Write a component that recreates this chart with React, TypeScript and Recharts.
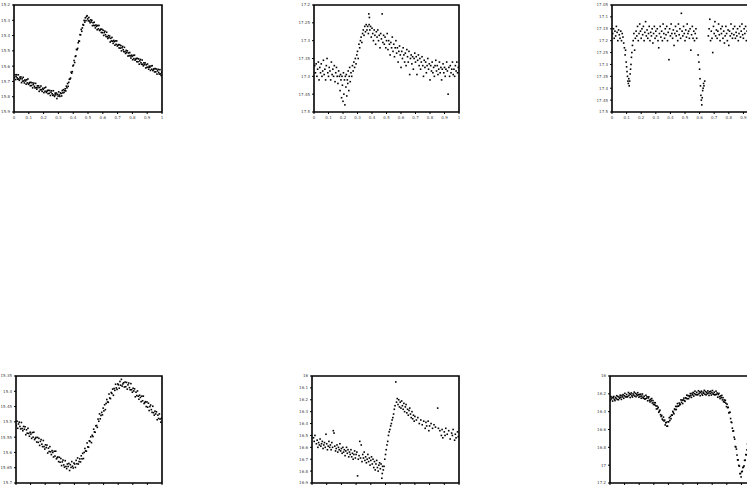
import { ScatterChart, Scatter, XAxis, YAxis, ReferenceArea } from 'recharts';

// phase-folded light curves, 6 stars
const phaseTicks = [0, 0.1, 0.2, 0.3, 0.4, 0.5, 0.6, 0.7, 0.8, 0.9, 1];

const ticksA = [15.2, 15.3, 15.4, 15.5, 15.6, 15.7, 15.8, 15.9];
const ticksB = [17.2, 17.25, 17.3, 17.35, 17.4, 17.45, 17.5];
const ticksC = [17.05, 17.1, 17.15, 17.2, 17.25, 17.3, 17.35, 17.4, 17.45, 17.5];
const ticksD = [15.35, 15.4, 15.45, 15.5, 15.55, 15.6, 15.65, 15.7];
const ticksE = [16, 16.1, 16.2, 16.3, 16.4, 16.5, 16.6, 16.7, 16.8, 16.9];
const ticksF = [16, 16.2, 16.4, 16.6, 16.8, 17, 17.2];

const starA: [number, number][] = [
  [0.003,15.674],[0.007,15.656],[0.011,15.688],[0.014,15.667],[0.018,15.656],[0.021,15.676],[0.025,15.686],[0.029,15.657],[0.032,15.684],[0.036,15.693],
  [0.04,15.672],[0.043,15.683],[0.047,15.671],[0.051,15.708],[0.055,15.683],[0.058,15.698],[0.062,15.673],[0.066,15.697],[0.07,15.71],[0.074,15.69],
  [0.078,15.697],[0.082,15.718],[0.086,15.689],[0.09,15.71],[0.094,15.684],[0.098,15.719],[0.102,15.713],[0.106,15.707],[0.11,15.728],[0.114,15.706],
  [0.118,15.727],[0.122,15.709],[0.126,15.742],[0.13,15.721],[0.134,15.711],[0.138,15.732],[0.142,15.742],[0.146,15.713],[0.15,15.741],[0.154,15.751],
  [0.158,15.729],[0.162,15.741],[0.166,15.729],[0.17,15.765],[0.174,15.74],[0.178,15.755],[0.182,15.73],[0.186,15.754],[0.19,15.765],[0.194,15.745],
  [0.198,15.752],[0.202,15.773],[0.206,15.743],[0.21,15.764],[0.214,15.738],[0.218,15.772],[0.222,15.766],[0.226,15.759],[0.23,15.78],[0.234,15.758],
  [0.238,15.778],[0.242,15.76],[0.246,15.792],[0.25,15.771],[0.254,15.761],[0.258,15.781],[0.262,15.791],[0.266,15.761],[0.27,15.789],[0.274,15.798],
  [0.278,15.777],[0.282,15.788],[0.286,15.776],[0.29,15.812],[0.294,15.784],[0.298,15.796],[0.302,15.768],[0.306,15.789],[0.31,15.798],[0.314,15.775],
  [0.318,15.779],[0.322,15.795],[0.326,15.76],[0.33,15.775],[0.334,15.754],[0.338,15.772],[0.342,15.76],[0.346,15.748],[0.35,15.762],[0.354,15.731],
  [0.358,15.742],[0.362,15.714],[0.366,15.732],[0.37,15.706],[0.374,15.686],[0.378,15.685],[0.382,15.678],[0.386,15.639],[0.39,15.646],[0.394,15.636],
  [0.398,15.599],[0.402,15.593],[0.406,15.563],[0.41,15.576],[0.414,15.537],[0.418,15.533],[0.422,15.491],[0.426,15.492],[0.43,15.484],[0.434,15.447],
  [0.438,15.436],[0.442,15.437],[0.446,15.394],[0.45,15.395],[0.454,15.36],[0.458,15.372],[0.462,15.35],[0.466,15.328],[0.47,15.332],[0.474,15.301],
  [0.478,15.312],[0.482,15.284],[0.486,15.302],[0.49,15.276],[0.494,15.27],[0.498,15.291],[0.502,15.303],[0.506,15.282],[0.51,15.305],[0.514,15.316],
  [0.518,15.297],[0.522,15.311],[0.526,15.3],[0.53,15.335],[0.534,15.316],[0.538,15.333],[0.542,15.313],[0.546,15.335],[0.55,15.35],[0.554,15.331],
  [0.558,15.339],[0.562,15.362],[0.566,15.334],[0.57,15.356],[0.574,15.334],[0.578,15.367],[0.582,15.363],[0.586,15.358],[0.59,15.38],[0.594,15.359],
  [0.598,15.381],[0.602,15.365],[0.606,15.399],[0.61,15.38],[0.614,15.371],[0.618,15.394],[0.622,15.406],[0.626,15.378],[0.63,15.408],[0.634,15.419],
  [0.638,15.4],[0.642,15.414],[0.646,15.403],[0.65,15.442],[0.654,15.418],[0.658,15.435],[0.662,15.412],[0.666,15.437],[0.67,15.451],[0.674,15.432],
  [0.678,15.44],[0.682,15.463],[0.686,15.435],[0.69,15.457],[0.694,15.435],[0.698,15.468],[0.702,15.464],[0.706,15.459],[0.71,15.481],[0.714,15.46],
  [0.718,15.482],[0.722,15.466],[0.726,15.5],[0.73,15.48],[0.734,15.471],[0.738,15.493],[0.742,15.505],[0.746,15.477],[0.75,15.506],[0.754,15.517],
  [0.758,15.497],[0.762,15.511],[0.766,15.5],[0.77,15.534],[0.774,15.514],[0.778,15.531],[0.782,15.511],[0.786,15.533],[0.79,15.547],[0.794,15.528],
  [0.798,15.536],[0.802,15.558],[0.806,15.53],[0.81,15.551],[0.814,15.528],[0.818,15.561],[0.822,15.555],[0.826,15.55],[0.83,15.571],[0.834,15.549],
  [0.838,15.571],[0.842,15.553],[0.846,15.587],[0.85,15.566],[0.854,15.556],[0.858,15.578],[0.862,15.588],[0.866,15.56],[0.87,15.588],[0.874,15.598],
  [0.878,15.578],[0.882,15.59],[0.886,15.579],[0.89,15.612],[0.894,15.591],[0.898,15.608],[0.902,15.586],[0.906,15.607],[0.91,15.62],[0.914,15.6],
  [0.918,15.607],[0.922,15.628],[0.926,15.599],[0.93,15.62],[0.934,15.597],[0.938,15.629],[0.942,15.623],[0.946,15.617],[0.95,15.638],[0.954,15.616],
  [0.958,15.637],[0.962,15.619],[0.966,15.652],[0.97,15.631],[0.974,15.621],[0.978,15.642],[0.982,15.652],[0.986,15.623],[0.99,15.651],[0.994,15.661],
  [0.998,15.64],
];

const starB: [number, number][] = [
  [0.005,17.37],[0.01,17.39],[0.015,17.365],[0.02,17.4],[0.025,17.38],[0.03,17.36],[0.035,17.41],[0.04,17.375],[0.045,17.39],[0.05,17.365],
  [0.055,17.4],[0.06,17.385],[0.065,17.355],[0.07,17.395],[0.075,17.38],[0.08,17.41],[0.085,17.37],[0.09,17.35],[0.095,17.39],[0.1,17.4],
  [0.105,17.375],[0.11,17.385],[0.115,17.41],[0.12,17.36],[0.125,17.395],[0.13,17.38],[0.135,17.4],[0.14,17.37],[0.145,17.415],[0.15,17.39],
  [0.155,17.375],[0.16,17.4],[0.165,17.42],[0.17,17.385],[0.175,17.4],[0.18,17.44],[0.183,17.395],[0.186,17.41],[0.19,17.46],[0.193,17.4],
  [0.196,17.425],[0.2,17.47],[0.203,17.39],[0.206,17.45],[0.21,17.41],[0.213,17.48],[0.216,17.4],[0.22,17.43],[0.223,17.395],[0.226,17.455],
  [0.23,17.41],[0.233,17.42],[0.236,17.385],[0.24,17.44],[0.243,17.4],[0.246,17.375],[0.25,17.415],[0.255,17.39],[0.26,17.4],[0.265,17.37],
  [0.27,17.385],[0.275,17.36],[0.28,17.375],[0.285,17.35],[0.29,17.365],[0.295,17.34],[0.3,17.33],[0.305,17.35],[0.31,17.31],[0.315,17.32],
  [0.32,17.3],[0.325,17.29],[0.33,17.305],[0.335,17.28],[0.34,17.27],[0.345,17.285],[0.35,17.26],[0.355,17.275],[0.36,17.255],[0.365,17.27],
  [0.37,17.26],[0.375,17.28],[0.378,17.225],[0.38,17.255],[0.382,17.235],[0.385,17.27],[0.39,17.26],[0.395,17.29],[0.4,17.265],[0.405,17.28],
  [0.41,17.3],[0.415,17.27],[0.42,17.285],[0.425,17.31],[0.43,17.275],[0.435,17.29],[0.44,17.27],[0.445,17.3],[0.45,17.285],[0.455,17.32],
  [0.46,17.28],[0.465,17.295],[0.47,17.225],[0.475,17.305],[0.48,17.285],[0.485,17.31],[0.49,17.29],[0.495,17.32],[0.5,17.3],[0.505,17.28],
  [0.51,17.325],[0.515,17.3],[0.52,17.31],[0.525,17.34],[0.53,17.305],[0.535,17.32],[0.54,17.29],[0.545,17.33],[0.55,17.31],[0.555,17.345],
  [0.56,17.32],[0.565,17.3],[0.57,17.335],[0.575,17.32],[0.58,17.36],[0.585,17.33],[0.59,17.315],[0.595,17.34],[0.6,17.375],[0.605,17.33],
  [0.61,17.35],[0.615,17.32],[0.62,17.34],[0.625,17.36],[0.63,17.335],[0.635,17.37],[0.64,17.325],[0.645,17.345],[0.65,17.36],[0.655,17.33],
  [0.66,17.395],[0.665,17.35],[0.67,17.34],[0.675,17.365],[0.68,17.345],[0.685,17.38],[0.69,17.35],[0.695,17.335],[0.7,17.36],[0.705,17.345],
  [0.71,17.395],[0.715,17.355],[0.72,17.34],[0.725,17.37],[0.73,17.35],[0.735,17.38],[0.74,17.36],[0.745,17.345],[0.75,17.37],[0.755,17.4],
  [0.76,17.355],[0.765,17.375],[0.77,17.36],[0.775,17.39],[0.78,17.37],[0.785,17.35],[0.79,17.38],[0.795,17.365],[0.8,17.41],[0.805,17.37],
  [0.81,17.385],[0.815,17.36],[0.82,17.39],[0.825,17.375],[0.83,17.4],[0.835,17.37],[0.84,17.355],[0.845,17.385],[0.85,17.37],[0.855,17.395],
  [0.86,17.38],[0.865,17.36],[0.87,17.39],[0.875,17.375],[0.88,17.41],[0.885,17.38],[0.89,17.365],[0.895,17.39],[0.9,17.375],[0.905,17.4],
  [0.91,17.38],[0.915,17.36],[0.92,17.385],[0.925,17.45],[0.93,17.375],[0.935,17.4],[0.94,17.37],[0.945,17.39],[0.95,17.38],[0.955,17.36],
  [0.96,17.395],[0.965,17.38],[0.97,17.4],[0.975,17.37],[0.98,17.385],[0.985,17.36],[0.99,17.39],[0.995,17.375],
];

const starC: [number, number][] = [
  [0.005,17.17],[0.01,17.15],[0.015,17.19],[0.02,17.16],[0.025,17.18],[0.03,17.14],[0.035,17.165],[0.04,17.2],[0.045,17.155],[0.05,17.175],
  [0.055,17.19],[0.06,17.16],[0.065,17.2],[0.07,17.17],[0.075,17.185],[0.08,17.21],[0.085,17.23],[0.09,17.26],[0.093,17.24],[0.097,17.29],
  [0.1,17.31],[0.103,17.33],[0.106,17.35],[0.109,17.37],[0.112,17.38],[0.115,17.36],[0.118,17.39],[0.121,17.37],[0.124,17.34],[0.127,17.32],
  [0.13,17.3],[0.133,17.27],[0.136,17.25],[0.14,17.22],[0.145,17.2],[0.15,17.17],[0.155,17.24],[0.16,17.19],[0.165,17.16],[0.17,17.18],
  [0.175,17.14],[0.18,17.2],[0.185,17.17],[0.19,17.13],[0.195,17.16],[0.2,17.19],[0.205,17.15],[0.21,17.175],[0.215,17.14],[0.22,17.2],
  [0.225,17.165],[0.23,17.12],[0.235,17.18],[0.24,17.155],[0.245,17.19],[0.25,17.17],[0.255,17.14],[0.26,17.2],[0.265,17.165],[0.27,17.18],
  [0.275,17.15],[0.28,17.21],[0.285,17.17],[0.29,17.14],[0.295,17.19],[0.3,17.16],[0.305,17.18],[0.31,17.15],[0.315,17.2],[0.32,17.23],
  [0.325,17.17],[0.33,17.14],[0.335,17.185],[0.34,17.16],[0.345,17.2],[0.35,17.13],[0.355,17.17],[0.36,17.19],[0.365,17.15],[0.37,17.175],
  [0.375,17.14],[0.38,17.2],[0.385,17.165],[0.39,17.28],[0.395,17.15],[0.4,17.18],[0.405,17.13],[0.41,17.17],[0.415,17.19],[0.42,17.155],
  [0.425,17.22],[0.43,17.17],[0.435,17.14],[0.44,17.18],[0.445,17.16],[0.45,17.2],[0.455,17.13],[0.46,17.175],[0.465,17.15],[0.47,17.19],
  [0.475,17.085],[0.48,17.16],[0.485,17.18],[0.49,17.14],[0.495,17.17],[0.5,17.2],[0.505,17.155],[0.51,17.185],[0.515,17.13],[0.52,17.17],
  [0.525,17.16],[0.53,17.19],[0.535,17.15],[0.54,17.24],[0.545,17.175],[0.55,17.14],[0.555,17.19],[0.56,17.16],[0.565,17.2],[0.57,17.17],
  [0.575,17.15],[0.58,17.19],[0.59,17.26],[0.595,17.29],[0.6,17.32],[0.603,17.36],[0.606,17.39],[0.609,17.43],[0.612,17.45],[0.615,17.47],
  [0.618,17.44],[0.621,17.41],[0.624,17.4],[0.627,17.38],[0.63,17.39],[0.635,17.37],
  [0.66,17.18],[0.665,17.15],[0.67,17.11],[0.675,17.2],[0.68,17.16],[0.685,17.19],[0.69,17.25],[0.695,17.14],[0.7,17.17],[0.705,17.12],
  [0.71,17.18],[0.715,17.155],[0.72,17.19],[0.725,17.16],[0.73,17.13],[0.735,17.175],[0.74,17.2],[0.745,17.15],[0.75,17.17],[0.755,17.14],
  [0.76,17.19],[0.765,17.16],[0.77,17.21],[0.775,17.18],[0.78,17.14],[0.785,17.17],[0.79,17.2],[0.795,17.155],[0.8,17.22],[0.805,17.16],
  [0.81,17.18],[0.815,17.13],[0.82,17.17],[0.825,17.19],[0.83,17.15],[0.835,17.175],[0.84,17.14],[0.845,17.19],[0.85,17.165],[0.855,17.18],
  [0.86,17.15],[0.865,17.2],[0.87,17.17],[0.875,17.14],[0.88,17.185],[0.885,17.16],[0.89,17.13],[0.895,17.175],[0.9,17.19],[0.905,17.15],
  [0.91,17.17],[0.915,17.14],[0.92,17.2],[0.925,17.16],[0.93,17.18],[0.935,17.15],[0.94,17.17],[0.945,17.19],[0.95,17.16],[0.955,17.14],
  [0.96,17.18],[0.965,17.2],[0.97,17.165],[0.975,17.15],[0.98,17.18],[0.985,17.16],[0.99,17.19],[0.995,17.17],
];

const starD: [number, number][] = [
  [0.002,15.512],[0.007,15.498],[0.012,15.521],[0.017,15.507],[0.022,15.501],[0.027,15.515],[0.032,15.523],[0.037,15.502],[0.042,15.522],[0.047,15.529],
  [0.052,15.515],[0.057,15.524],[0.062,15.516],[0.067,15.542],[0.072,15.526],[0.077,15.537],[0.082,15.521],[0.087,15.538],[0.092,15.547],[0.097,15.534],
  [0.102,15.54],[0.107,15.554],[0.112,15.535],[0.117,15.55],[0.122,15.534],[0.127,15.558],[0.132,15.554],[0.137,15.551],[0.142,15.566],[0.147,15.551],
  [0.152,15.567],[0.157,15.554],[0.162,15.577],[0.167,15.564],[0.172,15.558],[0.177,15.573],[0.182,15.581],[0.187,15.561],[0.192,15.581],[0.197,15.589],
  [0.202,15.575],[0.207,15.584],[0.212,15.576],[0.217,15.602],[0.222,15.586],[0.227,15.597],[0.232,15.581],[0.237,15.598],[0.242,15.607],[0.247,15.594],
  [0.252,15.6],[0.257,15.615],[0.262,15.596],[0.267,15.612],[0.272,15.596],[0.277,15.621],[0.282,15.617],[0.287,15.615],[0.292,15.63],[0.297,15.616],
  [0.302,15.632],[0.307,15.62],[0.312,15.643],[0.317,15.631],[0.322,15.625],[0.327,15.641],[0.332,15.648],[0.337,15.627],[0.342,15.646],[0.347,15.653],
  [0.352,15.638],[0.357,15.646],[0.362,15.636],[0.367,15.659],[0.372,15.64],[0.377,15.649],[0.382,15.63],[0.387,15.645],[0.392,15.651],[0.397,15.635],
  [0.402,15.638],[0.407,15.649],[0.412,15.626],[0.417,15.637],[0.422,15.618],[0.427,15.638],[0.432,15.63],[0.437,15.621],[0.442,15.631],[0.447,15.611],
  [0.452,15.621],[0.457,15.603],[0.462,15.62],[0.467,15.6],[0.472,15.587],[0.477,15.595],[0.482,15.596],[0.487,15.569],[0.492,15.582],[0.497,15.583],
  [0.502,15.562],[0.507,15.564],[0.512,15.549],[0.517,15.568],[0.522,15.544],[0.527,15.548],[0.532,15.524],[0.537,15.533],[0.542,15.534],[0.547,15.513],
  [0.552,15.512],[0.557,15.518],[0.562,15.491],[0.567,15.498],[0.572,15.474],[0.577,15.49],[0.582,15.479],[0.587,15.469],[0.592,15.477],[0.597,15.455],
  [0.602,15.464],[0.607,15.444],[0.612,15.46],[0.617,15.44],[0.622,15.427],[0.627,15.435],[0.632,15.436],[0.637,15.409],[0.642,15.422],[0.647,15.424],
  [0.652,15.404],[0.657,15.407],[0.662,15.393],[0.667,15.413],[0.672,15.391],[0.677,15.397],[0.682,15.377],[0.687,15.389],[0.692,15.394],[0.697,15.376],
  [0.702,15.379],[0.707,15.39],[0.712,15.368],[0.717,15.38],[0.722,15.361],[0.727,15.383],[0.732,15.376],[0.737,15.372],[0.742,15.386],[0.747,15.37],
  [0.752,15.385],[0.757,15.371],[0.762,15.393],[0.767,15.379],[0.772,15.373],[0.777,15.388],[0.782,15.395],[0.787,15.375],[0.792,15.395],[0.797,15.403],
  [0.802,15.39],[0.807,15.399],[0.812,15.392],[0.817,15.418],[0.822,15.403],[0.827,15.414],[0.832,15.399],[0.837,15.416],[0.842,15.426],[0.847,15.413],
  [0.852,15.42],[0.857,15.434],[0.862,15.416],[0.867,15.431],[0.872,15.416],[0.877,15.44],[0.882,15.437],[0.887,15.434],[0.892,15.45],[0.897,15.435],
  [0.902,15.452],[0.907,15.439],[0.912,15.463],[0.917,15.45],[0.922,15.445],[0.927,15.46],[0.932,15.469],[0.937,15.449],[0.942,15.47],[0.947,15.478],
  [0.952,15.465],[0.957,15.474],[0.962,15.467],[0.967,15.493],[0.972,15.478],[0.977,15.489],[0.982,15.474],[0.987,15.491],[0.992,15.501],[0.997,15.488],
];

const starE: [number, number][] = [
  [0.01,16.52],[0.015,16.55],[0.02,16.5],[0.03,16.57],[0.035,16.54],[0.04,16.6],[0.045,16.56],[0.05,16.58],[0.055,16.53],[0.06,16.59],
  [0.065,16.57],[0.07,16.55],[0.075,16.61],[0.08,16.58],[0.085,16.56],[0.09,16.6],[0.095,16.49],[0.1,16.57],[0.105,16.62],[0.11,16.59],
  [0.115,16.55],[0.12,16.6],[0.125,16.58],[0.13,16.62],[0.135,16.56],[0.14,16.6],[0.145,16.46],[0.15,16.48],[0.155,16.59],[0.16,16.63],
  [0.165,16.61],[0.17,16.58],[0.175,16.64],[0.18,16.6],[0.185,16.62],[0.19,16.57],[0.195,16.63],[0.2,16.61],[0.205,16.65],[0.21,16.6],
  [0.215,16.64],[0.22,16.62],[0.225,16.67],[0.23,16.63],[0.235,16.6],[0.24,16.65],[0.245,16.62],[0.25,16.68],[0.255,16.64],[0.26,16.66],
  [0.265,16.62],[0.27,16.68],[0.275,16.65],[0.28,16.7],[0.285,16.66],[0.29,16.63],[0.295,16.69],[0.3,16.66],[0.305,16.64],[0.31,16.84],
  [0.315,16.7],[0.32,16.67],[0.325,16.55],[0.33,16.69],[0.335,16.58],[0.34,16.72],[0.345,16.66],[0.35,16.69],[0.355,16.64],[0.36,16.71],
  [0.365,16.68],[0.37,16.73],[0.375,16.7],[0.38,16.66],[0.385,16.72],[0.39,16.69],[0.395,16.75],[0.4,16.71],[0.405,16.68],[0.41,16.74],
  [0.415,16.7],[0.42,16.77],[0.425,16.72],[0.43,16.79],[0.435,16.74],[0.44,16.71],[0.445,16.77],[0.45,16.8],[0.455,16.75],[0.46,16.73],
  [0.465,16.78],[0.47,16.74],[0.475,16.86],[0.478,16.82],[0.48,16.76],[0.485,16.79],[0.49,16.76],[0.495,16.7],[0.5,16.66],[0.505,16.62],
  [0.51,16.58],[0.515,16.55],[0.52,16.5],[0.525,16.47],[0.53,16.45],[0.535,16.42],[0.54,16.4],[0.545,16.37],[0.55,16.35],[0.555,16.32],
  [0.56,16.28],[0.565,16.25],[0.57,16.05],[0.575,16.22],[0.58,16.19],[0.585,16.24],[0.59,16.2],[0.595,16.26],[0.6,16.22],[0.605,16.27],
  [0.61,16.21],[0.615,16.25],[0.62,16.28],[0.625,16.23],[0.63,16.3],[0.635,16.26],[0.64,16.24],[0.645,16.31],[0.65,16.28],[0.655,16.33],
  [0.66,16.29],[0.665,16.27],[0.67,16.32],[0.675,16.35],[0.68,16.3],[0.685,16.36],[0.69,16.33],[0.695,16.38],[0.7,16.34],[0.71,16.37],
  [0.72,16.35],[0.73,16.4],[0.74,16.37],[0.75,16.41],[0.76,16.38],[0.77,16.44],[0.775,16.39],[0.78,16.42],[0.79,16.38],[0.795,16.46],
  [0.8,16.42],[0.81,16.4],[0.82,16.44],[0.83,16.41],[0.84,16.43],[0.855,16.27],[0.86,16.44],[0.87,16.46],[0.88,16.5],[0.885,16.45],
  [0.89,16.52],[0.9,16.47],[0.905,16.5],[0.91,16.44],[0.92,16.49],[0.93,16.46],[0.94,16.53],[0.95,16.48],[0.955,16.5],[0.96,16.45],
  [0.97,16.54],[0.975,16.49],[0.98,16.52],[0.99,16.47],[0.995,16.51],
];

const starF: [number, number][] = [
  [0.002,16.273],[0.006,16.23],[0.01,16.257],[0.014,16.238],[0.018,16.281],[0.022,16.246],[0.026,16.23],[0.03,16.262],[0.034,16.276],[0.038,16.241],
  [0.042,16.253],[0.046,16.221],[0.05,16.263],[0.054,16.23],[0.058,16.266],[0.062,16.236],[0.066,16.249],[0.07,16.215],[0.074,16.237],[0.078,16.262],
  [0.082,16.218],[0.086,16.235],[0.09,16.209],[0.094,16.25],[0.098,16.222],[0.102,16.195],[0.106,16.231],[0.11,16.235],[0.114,16.208],[0.118,16.234],
  [0.122,16.23],[0.126,16.185],[0.13,16.217],[0.134,16.198],[0.138,16.241],[0.142,16.206],[0.146,16.19],[0.15,16.222],[0.154,16.236],[0.158,16.201],
  [0.162,16.213],[0.166,16.181],[0.17,16.225],[0.174,16.194],[0.178,16.232],[0.182,16.204],[0.186,16.219],[0.19,16.187],[0.194,16.211],[0.198,16.238],
  [0.202,16.207],[0.206,16.227],[0.21,16.204],[0.214,16.249],[0.218,16.225],[0.222,16.202],[0.226,16.242],[0.23,16.25],[0.234,16.227],[0.238,16.257],
  [0.242,16.257],[0.246,16.216],[0.25,16.25],[0.254,16.233],[0.258,16.278],[0.262,16.246],[0.266,16.234],[0.27,16.272],[0.274,16.291],[0.278,16.261],
  [0.282,16.279],[0.286,16.253],[0.29,16.303],[0.294,16.276],[0.298,16.319],[0.302,16.299],[0.306,16.323],[0.31,16.3],[0.314,16.334],[0.318,16.37],
  [0.322,16.337],[0.326,16.366],[0.33,16.351],[0.334,16.407],[0.338,16.395],[0.342,16.383],[0.346,16.434],[0.35,16.454],[0.354,16.442],[0.358,16.483],
  [0.362,16.493],[0.366,16.461],[0.37,16.504],[0.374,16.495],[0.378,16.549],[0.382,16.525],[0.386,16.519],[0.39,16.562],[0.394,16.563],[0.398,16.514],
  [0.402,16.513],[0.406,16.468],[0.41,16.498],[0.414,16.454],[0.418,16.479],[0.422,16.437],[0.426,16.44],[0.43,16.397],[0.434,16.409],[0.438,16.424],
  [0.442,16.37],[0.446,16.377],[0.45,16.341],[0.454,16.376],[0.458,16.342],[0.462,16.309],[0.466,16.339],[0.47,16.337],[0.474,16.304],[0.478,16.324],
  [0.482,16.316],[0.486,16.268],[0.49,16.295],[0.494,16.271],[0.498,16.309],[0.502,16.269],[0.506,16.248],[0.51,16.275],[0.514,16.284],[0.518,16.244],
  [0.522,16.251],[0.526,16.215],[0.53,16.255],[0.534,16.22],[0.538,16.254],[0.542,16.222],[0.546,16.233],[0.55,16.197],[0.554,16.217],[0.558,16.24],
  [0.562,16.195],[0.566,16.211],[0.57,16.185],[0.574,16.225],[0.578,16.197],[0.582,16.17],[0.586,16.206],[0.59,16.21],[0.594,16.183],[0.598,16.21],
  [0.602,16.208],[0.606,16.165],[0.61,16.197],[0.614,16.178],[0.618,16.221],[0.622,16.186],[0.626,16.17],[0.63,16.202],[0.634,16.216],[0.638,16.181],
  [0.642,16.193],[0.646,16.161],[0.65,16.205],[0.654,16.174],[0.658,16.212],[0.662,16.184],[0.666,16.199],[0.67,16.167],[0.674,16.191],[0.678,16.218],
  [0.682,16.176],[0.686,16.195],[0.69,16.171],[0.694,16.214],[0.698,16.188],[0.702,16.163],[0.706,16.201],[0.71,16.207],[0.714,16.182],[0.718,16.21],
  [0.722,16.209],[0.726,16.17],[0.73,16.206],[0.734,16.191],[0.738,16.238],[0.742,16.207],[0.746,16.195],[0.75,16.232],[0.754,16.253],[0.758,16.224],
  [0.762,16.243],[0.766,16.218],[0.77,16.268],[0.774,16.244],[0.778,16.289],[0.782,16.269],[0.786,16.294],[0.79,16.272],[0.794,16.306],[0.798,16.343],
  [0.802,16.316],[0.806,16.355],[0.81,16.351],[0.814,16.414],[0.818,16.408],[0.822,16.407],[0.826,16.477],[0.83,16.517],[0.834,16.522],[0.838,16.585],
  [0.842,16.618],[0.846,16.615],[0.85,16.687],[0.854,16.708],[0.858,16.791],[0.862,16.796],[0.866,16.82],[0.87,16.887],[0.874,16.941],[0.878,16.941],
  [0.882,17.003],[0.886,17.011],[0.89,17.095],[0.894,17.094],[0.898,17.132],[0.902,17.074],[0.906,17.069],[0.91,17.027],[0.914,17.021],[0.918,17.008],
  [0.922,16.946],[0.926,16.945],[0.93,16.881],[0.934,16.884],[0.938,16.828],[0.942,16.763],[0.946,16.761],[0.95,16.717],[0.955,16.622],[0.96,16.58],
  [0.965,16.518],[0.97,16.425],[0.975,16.407],[0.98,16.348],[0.985,16.351],[0.99,16.296],[0.995,16.26],
];

const YW = 16;
const PH = 107;
const XH = 10;
const PAD = 3;

const tickStyle = { fontSize: 4, fill: '#444', fontFamily: 'DejaVu Sans' };

function Dot(props: any) {
  const { cx, cy } = props;
  if (cx == null || cy == null) return null;
  return <rect x={cx - 0.8} y={cy - 0.8} width={1.6} height={1.6} fill="#000" />;
}

type PanelProps = {
  points: [number, number][];
  yTicks: number[];
  left: number;
  top: number;
  width: number;
};

function LightCurve({ points, yTicks, left, top, width }: PanelProps) {
  const data = points.map(([x, y]) => ({ x, y }));
  const lo = yTicks[0];
  const hi = yTicks[yTicks.length - 1];
  return (
    <div style={{ position: 'absolute', left: left - YW, top: top - PAD }}>
      <ScatterChart
        width={width + YW + PAD}
        height={PH + XH + PAD}
        margin={{ top: PAD, right: PAD, bottom: 0, left: 0 }}
      >
        <XAxis
          type="number"
          dataKey="x"
          domain={[0, 1]}
          ticks={phaseTicks}
          interval={0}
          height={XH}
          tick={tickStyle}
          tickSize={2}
          tickLine={{ stroke: '#000' }}
          axisLine={false}
          allowDataOverflow
        />
        <YAxis
          type="number"
          dataKey="y"
          domain={[lo, hi]}
          ticks={yTicks}
          interval={0}
          reversed
          width={YW}
          tick={tickStyle}
          tickSize={2}
          tickLine={{ stroke: '#000' }}
          axisLine={false}
          allowDataOverflow
        />
        <ReferenceArea x1={0} x2={1} y1={lo} y2={hi} fill="none" stroke="#000" strokeWidth={1.6} />
        <Scatter data={data} shape={Dot} isAnimationActive={false} />
      </ScatterChart>
    </div>
  );
}

export default function App() {
  return (
    <div style={{ position: 'absolute', left: 0, top: 0, width: 747, height: 485, overflow: 'hidden', background: '#fff' }}>
      <LightCurve points={starA} yTicks={ticksA} left={14} top={5} width={148} />
      <LightCurve points={starB} yTicks={ticksB} left={314} top={5} width={145} />
      <LightCurve points={starC} yTicks={ticksC} left={612} top={5} width={146} />
      <LightCurve points={starD} yTicks={ticksD} left={16} top={376} width={146} />
      <LightCurve points={starE} yTicks={ticksE} left={312} top={376} width={147} />
      <LightCurve points={starF} yTicks={ticksF} left={610} top={376} width={146} />
    </div>
  );
}
